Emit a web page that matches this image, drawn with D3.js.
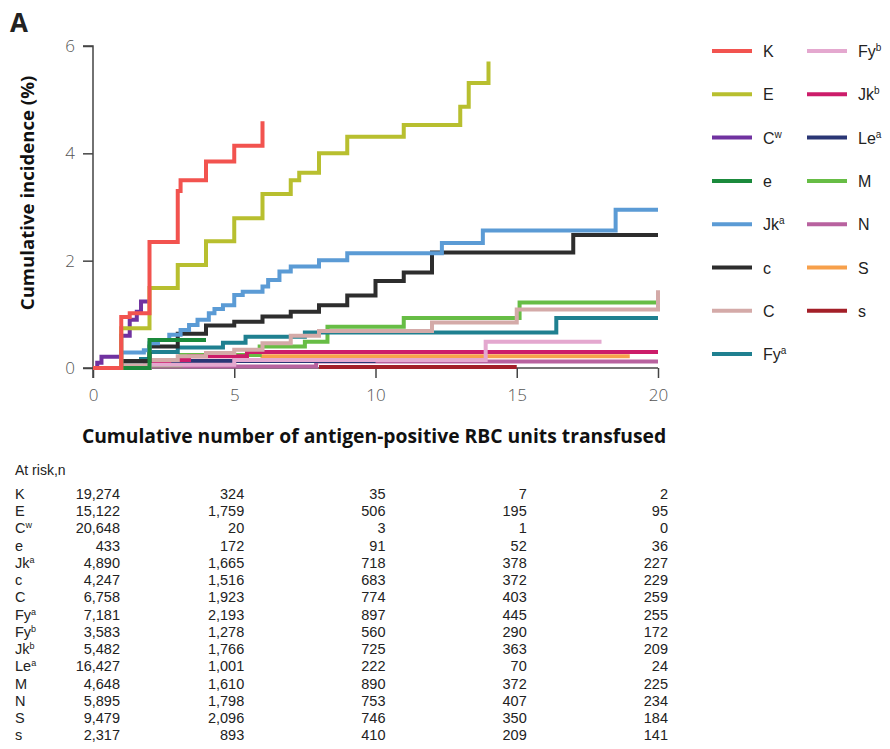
<!DOCTYPE html>
<html><head><meta charset="utf-8">
<script src="https://cdnjs.cloudflare.com/ajax/libs/d3/7.8.5/d3.min.js"></script>
<style>body{margin:0;background:#fff;}svg{display:block;}</style>
</head><body>
<svg id="chart" width="890" height="749"></svg>
<script>
// ---- data ----
const antigens = ["K","E","Cw","e","Jka","c","C","Fya","Fyb","Jkb","Lea","M","N","S","s"];
const labelBase = ["K","E","C","e","Jk","c","C","Fy","Fy","Jk","Le","M","N","S","s"];
const labelSup  = ["","","w","","a","","","a","b","b","a","","","",""];
const colors = ["#f2534f","#b8bf2f","#7032a0","#1b8a3c","#5b9bd5","#2d2d2d","#d4aaa8","#1f8090","#e4a8cf","#cc1c6a","#2a3675","#67bd45","#b8629f","#f7a04b","#a31f28"];

const K   = [[0,0],[1,0.95],[1.3,1.02],[2,2.35],[3,3.3],[3.1,3.5],[4,3.85],[5,4.14],[6,4.6]];
const E   = [[0,0],[1,0.74],[2,1.49],[3,1.92],[4,2.36],[5,2.79],[6,3.24],[7,3.5],[7.3,3.64],[8,4.0],[9,4.31],[11,4.53],[13,4.87],[13.3,5.31],[14,5.71]];
const Cw  = [[0,0],[0.15,0.1],[0.3,0.21],[1,0.6],[1.3,0.9],[1.55,1.05],[1.7,1.24],[1.95,1.24]];
const e   = [[0,0],[2,0.52],[4,0.52]];
const Jka = [[0,0],[1,0.29],[1.8,0.33],[2,0.46],[2.3,0.52],[2.7,0.62],[3.1,0.71],[3.4,0.8],[3.7,0.9],[4.1,1.02],[4.3,1.1],[4.6,1.17],[5,1.36],[5.3,1.42],[6,1.52],[6.2,1.64],[6.6,1.8],[7,1.89],[8,2.01],[9,2.14],[12.35,2.33],[13.8,2.56],[18.5,2.95],[20,2.95]];
const c   = [[0,0],[1,0.13],[2,0.4],[3,0.64],[4,0.79],[5,0.86],[6,0.96],[7,1.05],[8,1.17],[9,1.35],[10,1.62],[11,1.78],[12,2.15],[17,2.48],[20,2.48]];
const C   = [[0,0],[1,0.05],[2,0.15],[3,0.22],[4,0.28],[5,0.34],[6,0.46],[7,0.6],[8,0.69],[12,0.85],[15,1.09],[20,1.45]];
const Fya = [[0,0],[1,0.08],[1.7,0.17],[2,0.3],[3,0.38],[4.6,0.47],[5.4,0.58],[7.5,0.66],[16.4,0.93],[20,0.93]];
const Fyb = [[0,0],[2,0.06],[5,0.15],[13.9,0.49],[18,0.49]];
const Jkb = [[0,0],[2,0.1],[2.7,0.15],[3.4,0.22],[5.45,0.3],[20,0.3]];
const Lea = [[0,0],[1,0.08],[2,0.13],[10,0.13]];
const M   = [[0,0],[2,0.05],[3.1,0.24],[5.9,0.4],[7.5,0.49],[8.3,0.77],[11,0.93],[15.1,1.22],[20,1.22]];
const N   = [[0,0],[2,0.03],[7.9,0.12],[20,0.12]];
const S   = [[0,0],[2,0.05],[5,0.15],[6,0.22],[19,0.22]];
const s   = [[8,0.02],[15,0.02]];
const curves = [K,E,Cw,e,Jka,c,C,Fya,Fyb,Jkb,Lea,M,N,S,s];

const xTicks = [0,5,10,15,20];
const yTicks = [0,2,4,6];
const riskTimes = [0,5,10,15,20];
const riskK   = [19274,324,35,7,2];
const riskE   = [15122,1759,506,195,95];
const riskCw  = [20648,20,3,1,0];
const riske   = [433,172,91,52,36];
const riskJka = [4890,1665,718,378,227];
const riskc   = [4247,1516,683,372,229];
const riskC   = [6758,1923,774,403,259];
const riskFya = [7181,2193,897,445,255];
const riskFyb = [3583,1278,560,290,172];
const riskJkb = [5482,1766,725,363,209];
const riskLea = [16427,1001,222,70,24];
const riskM   = [4648,1610,890,372,225];
const riskN   = [5895,1798,753,407,234];
const riskS   = [9479,2096,746,350,184];
const risks   = [2317,893,410,209,141];
const riskRows = [riskK,riskE,riskCw,riske,riskJka,riskc,riskC,riskFya,riskFyb,riskJkb,riskLea,riskM,riskN,riskS,risks];

// ---- drawing ----
const svg = d3.select("#chart");
const x = d3.scaleLinear().domain([0,20]).range([93,658]);
const y = d3.scaleLinear().domain([0,6]).range([368,46]);
const axisFont = "'Open Sans', sans-serif";

svg.append("text").attr("x",10).attr("y",32).attr("font-family",axisFont)
  .attr("font-weight",700).attr("font-size",26).attr("fill","#222").text("A");

// axes
const yAxis = svg.append("g").attr("transform",`translate(${x(0)},0)`)
  .call(d3.axisLeft(y).tickValues(yTicks).tickSize(10).tickPadding(8).tickFormat(d3.format("d")));
const xAxis = svg.append("g").attr("transform",`translate(0,${y(0)})`)
  .call(d3.axisBottom(x).tickValues(xTicks).tickSize(10).tickPadding(11).tickFormat(d3.format("d")));
[xAxis,yAxis].forEach(g=>{
  g.selectAll("path,line").attr("stroke","#444").attr("stroke-width",1.5);
  g.selectAll("text").attr("font-family",axisFont).attr("font-size",17).attr("font-weight",300).attr("fill","#555");
});
yAxis.select(".domain").attr("d",`M-10,${y(6)}H0V${y(0)+10}`);
xAxis.select(".domain").attr("d",`M${x(0)-10},0H${x(20)}`);

// curves, drawn in reverse so K sits on top
const line = d3.line().x(d=>x(d[0])).y(d=>y(d[1])).curve(d3.curveStepAfter);
const idx = d3.range(curves.length).reverse();
svg.append("g").selectAll("path").data(idx).join("path")
  .attr("d",i=>line(curves[i])).attr("fill","none")
  .attr("stroke",i=>colors[i]).attr("stroke-width",4).attr("stroke-linejoin","miter");

// axis titles
svg.append("text").attr("transform",`translate(34,${(y(0)+y(6))/2 - 14}) rotate(-90)`)
  .attr("text-anchor","middle").attr("font-family",axisFont).attr("font-weight",700)
  .attr("font-size",18.6).attr("fill","#111").text("Cumulative incidence (%)");
svg.append("text").attr("x",374).attr("y",443).attr("text-anchor","middle")
  .attr("font-family",axisFont).attr("font-weight",700).attr("font-size",19.3)
  .attr("fill","#111").text("Cumulative number of antigen-positive RBC units transfused");

// legend
const leg = svg.append("g");
antigens.forEach((a,i)=>{
  const col = i<8?0:1, row = i<8?i:i-8;
  const lx = col===0?712:807, ly = 51 + row*43.3;
  leg.append("line").attr("x1",lx).attr("x2",lx+40).attr("y1",ly).attr("y2",ly)
    .attr("stroke",colors[i]).attr("stroke-width",4);
  const t = leg.append("text").attr("x",lx+51).attr("y",ly+6)
    .attr("font-family","'Liberation Sans', Arial, sans-serif").attr("font-size",16).attr("fill","#222");
  t.append("tspan").text(labelBase[i]);
  if(labelSup[i]) t.append("tspan").attr("font-size",10).attr("dy",-6).text(labelSup[i]);
});

// at-risk table
const tf = "'Liberation Sans', Arial, sans-serif";
const fmt = d3.format(",");
svg.append("text").attr("x",15).attr("y",475).attr("font-family",tf).attr("font-size",14)
  .attr("fill","#222").text("At risk,n");
riskRows.forEach((r,i)=>{
  const ty = 499 + i*17.24;
  const t = svg.append("text").attr("x",15).attr("y",ty).attr("font-family",tf)
    .attr("font-size",14.5).attr("fill","#222");
  t.append("tspan").text(labelBase[i]);
  if(labelSup[i]) t.append("tspan").attr("font-size",9).attr("dy",-5).text(labelSup[i]);
  r.forEach((v,j)=>{
    const tx = x(riskTimes[j]) + (j===0?27:10);
    svg.append("text").attr("x",tx).attr("y",ty).attr("text-anchor","end")
      .attr("font-family",tf).attr("font-size",14.5).attr("fill","#222").text(fmt(v));
  });
});
</script>
</body></html>
